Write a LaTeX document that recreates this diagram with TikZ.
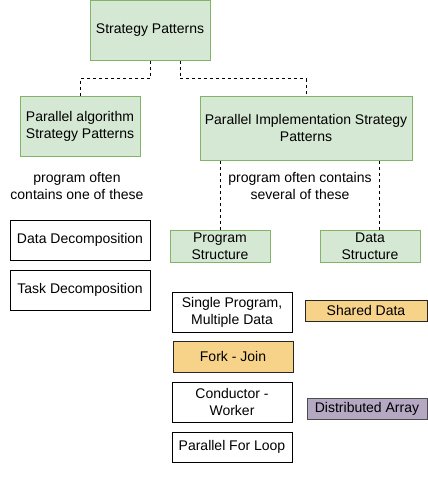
\documentclass[tikz,border=0pt]{standalone}
\usepackage{fontspec}
\setmainfont{Liberation Sans}
\definecolor{gfill}{HTML}{D5E8D4}
\definecolor{gline}{HTML}{82B366}
\definecolor{ofill}{HTML}{F7D38A}
\definecolor{pfill}{HTML}{B5A8C3}
\begin{document}
\begin{tikzpicture}[x=1pt,y=-1pt,
  box/.style={draw, line width=1pt, inner sep=0pt, align=center, font=\fontsize{14}{17}\selectfont},
  green/.style={box, draw=gline, fill=gfill},
  plain/.style={box, draw=black, fill=white},
  orange/.style={box, draw=black!85, fill=ofill},
  purple/.style={box, draw=black!70, fill=pfill},
  lbl/.style={inner sep=0pt, align=center, font=\fontsize{14}{17}\selectfont},
  conn/.style={draw=black, line width=1pt, dash pattern=on 3pt off 3pt}]
\useasboundingbox (0,0) rectangle (428,501);
\node[green, minimum width=120pt, minimum height=60pt] (sp) at (150,30) {Strategy Patterns};
\node[green, minimum width=120pt, minimum height=60pt] (pa) at (80,126) {Parallel algorithm\\Strategy Patterns};
\node[green, minimum width=212pt, minimum height=64pt] (pi) at (306,128) {Parallel Implementation Strategy\\Patterns};
\node[green, minimum width=100pt, minimum height=32pt] (ps) at (220,246) {Program\\Structure};
\node[green, minimum width=100pt, minimum height=32pt] (ds) at (370,246) {Data\\Structure};
\node[lbl] (t1) at (77,186) {program often\\contains one of these};
\node[lbl] (t2) at (300,186) {program often contains\\several of these};
\node[plain, minimum width=140pt, minimum height=40pt] (dd) at (80,240) {Data Decomposition};
\node[plain, minimum width=140pt, minimum height=40pt] (td) at (80,290) {Task Decomposition};
\node[plain, minimum width=120pt, minimum height=40pt] (spmd) at (232,312) {Single Program,\\Multiple Data};
\node[orange, minimum width=122pt, minimum height=21pt] (sd) at (366,310.5) {Shared Data};
\node[orange, minimum width=120pt, minimum height=31pt] (fj) at (233,356.5) {Fork - Join};
\node[plain, minimum width=120pt, minimum height=40pt] (cw) at (232,402) {Conductor -\\Worker};
\node[purple, minimum width=120pt, minimum height=21pt] (da) at (367,408.5) {Distributed Array};
\node[plain, minimum width=120pt, minimum height=30pt] (pfl) at (232,447) {Parallel For Loop};
\draw[conn] (sp.south) -- ++(0,18) -| (pa.north);
\draw[conn] ([xshift=30pt]sp.south) -- ++(0,18) -| (pi.north);
\draw[conn] (ps.north) -- (ps.north |- pi.south);
\draw[conn] ([xshift=9pt]ds.north) -- ([xshift=9pt]ds.north |- pi.south);
\end{tikzpicture}
\end{document}
